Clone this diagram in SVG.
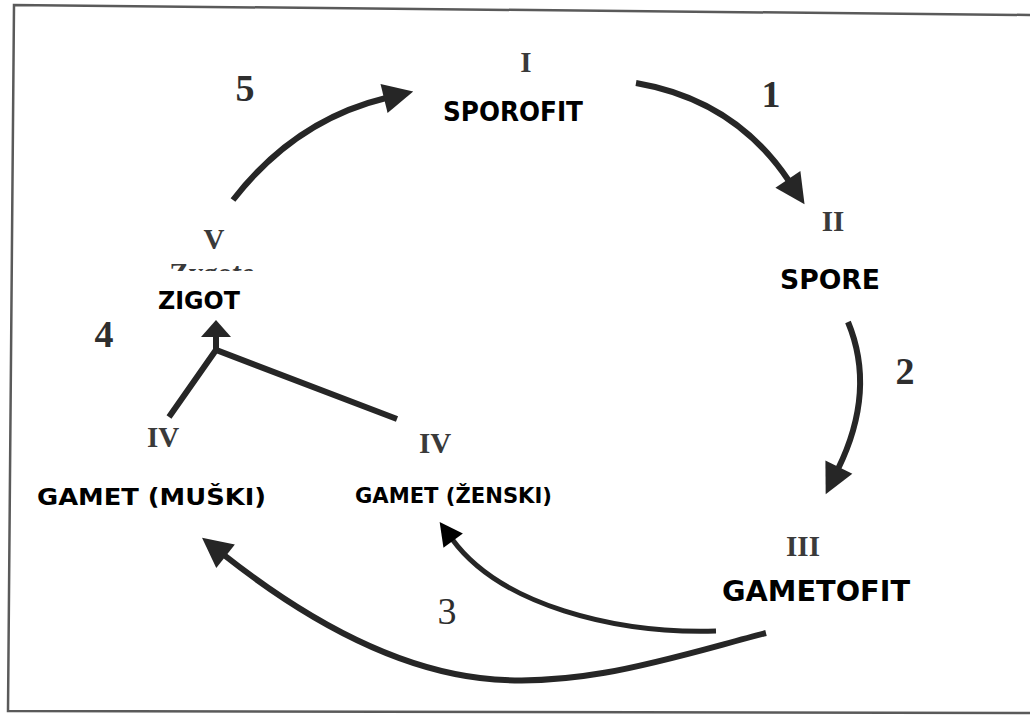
<svg xmlns="http://www.w3.org/2000/svg" width="1030" height="717" viewBox="0 0 1030 717">
<style>
.num{font-family:"Liberation Serif",serif;font-weight:bold;fill:#2e2e2e;text-anchor:middle}
.rom{font-family:"Liberation Serif",serif;font-weight:bold;fill:#3a3a3a;font-size:29px;text-anchor:middle}
.lbl{font-family:"DejaVu Sans",sans-serif;font-weight:bold;fill:#000}
.ln{fill:none;stroke:#262626;stroke-width:6;stroke-linecap:butt}
.frame{fill:none;stroke:#5a5a5a;stroke-width:2.5}
</style>
<defs>
<marker id="ah" markerUnits="userSpaceOnUse" markerWidth="40" markerHeight="40" refX="0" refY="0" orient="auto" style="overflow:visible">
<path d="M-2,-15 L28,0 L-2,15 Z" fill="#262626"/>
</marker>
<marker id="ahb" markerUnits="userSpaceOnUse" markerWidth="30" markerHeight="30" refX="0" refY="0" orient="auto" style="overflow:visible">
<path d="M-2,-12 L21,0 L-2,12 Z" fill="#000"/>
</marker>
<clipPath id="cut"><rect x="150" y="250" width="130" height="21"/></clipPath>
</defs>
<rect width="1030" height="717" fill="#fff"/>
<g id="frame">
<path class="frame" d="M1030,15 L14,5 L8,711 L1030,713"/>
</g>
<g id="connectors">
<path class="ln" d="M233,200 Q295,120 386,98" marker-end="url(#ah)"/>
<path class="ln" d="M636,83 Q735,100 789,181" marker-end="url(#ah)"/>
<path class="ln" d="M848,322 C868,370 862,420 838,469" marker-end="url(#ah)"/>
<path class="ln" d="M766,633 C680,655 580,690 480,678 C390,667 300,615 224,555" marker-end="url(#ah)"/>
<path class="ln" d="M716,631 C615,634 500,605 452,539" marker-end="url(#ahb)" style="stroke-width:5"/>
<path class="ln" d="M169,417 L216,350 L397,419" style="stroke-linejoin:miter"/>
<path class="ln" d="M216,350 L216,336"/>
<path d="M216,320 L231,337 L201,337 Z" fill="#262626"/>
</g>
<g id="n-sporofit">
<text class="rom" x="526" y="72">I</text>
<text class="lbl" x="443" y="121" font-size="27" textLength="140" lengthAdjust="spacingAndGlyphs">SPOROFIT</text>
</g>
<g id="n-spore">
<text class="rom" x="833" y="231">II</text>
<text class="lbl" x="780" y="289" font-size="27" textLength="100" lengthAdjust="spacingAndGlyphs">SPORE</text>
</g>
<g id="n-gametofit">
<text class="rom" x="803" y="556">III</text>
<text class="lbl" x="722" y="601" font-size="29" textLength="188" lengthAdjust="spacingAndGlyphs">GAMETOFIT</text>
</g>
<g id="n-zigot">
<text class="rom" x="214" y="249">V</text>
<text class="rom" x="212" y="283" font-size="28" clip-path="url(#cut)">Zygote</text>
<text class="lbl" x="158" y="309" font-size="25" textLength="82" lengthAdjust="spacingAndGlyphs">ZIGOT</text>
</g>
<g id="n-gamet-muski">
<text class="rom" x="163" y="447">IV</text>
<text class="lbl" x="37" y="505" font-size="23" textLength="229" lengthAdjust="spacingAndGlyphs">GAMET (MUŠKI)</text>
</g>
<g id="n-gamet-zenski">
<text class="rom" x="435" y="453">IV</text>
<text class="lbl" x="355" y="503" font-size="22" textLength="197" lengthAdjust="spacingAndGlyphs">GAMET (ŽENSKI)</text>
</g>
<g id="step-labels">
<text class="num" x="771" y="107" font-size="38">1</text>
<text class="num" x="905" y="384" font-size="38">2</text>
<text class="num" x="447" y="624" font-size="38" style="font-weight:normal">3</text>
<text class="num" x="104" y="347" font-size="38">4</text>
<text class="num" x="245" y="101" font-size="38">5</text>
</g>
</svg>
